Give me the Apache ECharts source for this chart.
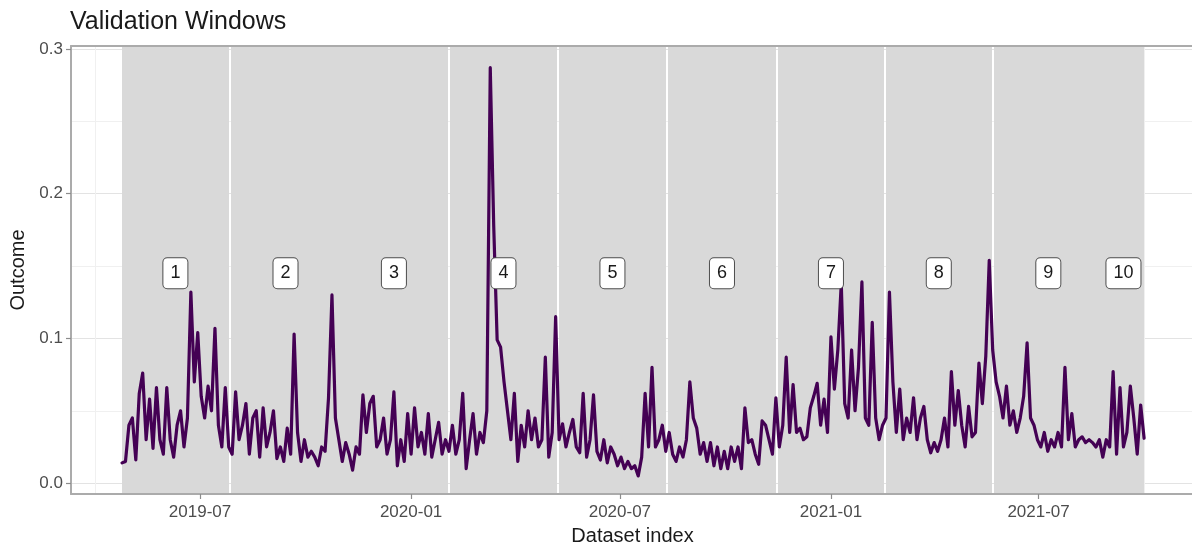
<!DOCTYPE html>
<html>
<head>
<meta charset="utf-8">
<title>Validation Windows</title>
<script src="https://cdn.jsdelivr.net/npm/echarts@6/dist/echarts.min.js"></script>
<style>
  html, body { margin: 0; padding: 0; background: #ffffff; overflow: hidden; }
  #chart { width: 1192px; height: 546px; }
</style>
</head>
<body>
<div id="chart"></div>
<script>
// Series: one observation every STEP_DAYS days starting at START_DATE
const START_DATE = '2019-04-24';
const STEP_DAYS = 3;
const outcome = [
  // window 1
  0.014, 0.015, 0.040, 0.045, 0.016, 0.062, 0.076, 0.030, 0.058, 0.024,
  0.066, 0.030, 0.020, 0.066, 0.030, 0.018, 0.040, 0.050, 0.025, 0.045,
  0.132, 0.070, 0.104, 0.060, 0.045, 0.067, 0.050, 0.107, 0.040, 0.025,
  0.066, 0.025,
  // window 2
  0.020, 0.063, 0.030, 0.040, 0.055, 0.020, 0.045, 0.050, 0.018, 0.052,
  0.025, 0.035, 0.050, 0.017, 0.025, 0.015, 0.038, 0.020, 0.103, 0.035,
  0.015, 0.030, 0.018, 0.022, 0.018, 0.012, 0.025, 0.022, 0.059, 0.130,
  0.045,
  // window 3
  0.030, 0.015, 0.028, 0.020, 0.009, 0.025, 0.020, 0.061, 0.035, 0.055,
  0.060, 0.025, 0.030, 0.045, 0.020, 0.030, 0.063, 0.012, 0.030, 0.015,
  0.048, 0.020, 0.052, 0.025, 0.035, 0.020, 0.048, 0.018, 0.030, 0.042,
  0.020, 0.030,
  // window 4
  0.022, 0.040, 0.020, 0.030, 0.062, 0.010, 0.030, 0.048, 0.020, 0.035,
  0.028, 0.050, 0.287, 0.178, 0.099, 0.094, 0.070, 0.050, 0.030, 0.062,
  0.015, 0.040, 0.025, 0.050, 0.030, 0.045, 0.025, 0.030, 0.087, 0.018,
  0.035, 0.115,
  // window 5
  0.030, 0.041, 0.025, 0.035, 0.044, 0.025, 0.021, 0.062, 0.018, 0.030,
  0.061, 0.022, 0.016, 0.030, 0.014, 0.025, 0.020, 0.012, 0.018, 0.010,
  0.015, 0.010, 0.012, 0.005, 0.018, 0.062, 0.025, 0.080, 0.025, 0.030,
  0.040, 0.022,
  // window 6
  0.035, 0.020, 0.015, 0.025, 0.018, 0.030, 0.070, 0.045, 0.038, 0.020,
  0.028, 0.015, 0.028, 0.012, 0.025, 0.010, 0.022, 0.010, 0.025, 0.015,
  0.025, 0.010, 0.052, 0.028, 0.030, 0.020, 0.013, 0.043, 0.040, 0.030,
  0.020, 0.059,
  // window 7
  0.025, 0.040, 0.087, 0.035, 0.068, 0.035, 0.038, 0.030, 0.032, 0.052,
  0.060, 0.069, 0.040, 0.058, 0.035, 0.101, 0.065, 0.092, 0.138, 0.055,
  0.045, 0.092, 0.050, 0.080, 0.139, 0.045, 0.040, 0.111, 0.045, 0.030,
  0.040,
  // window 8
  0.045, 0.132, 0.070, 0.035, 0.065, 0.030, 0.045, 0.035, 0.059, 0.030,
  0.045, 0.053, 0.030, 0.021, 0.028, 0.022, 0.030, 0.045, 0.025, 0.077,
  0.040, 0.064, 0.040, 0.025, 0.053, 0.032, 0.035, 0.083, 0.055, 0.088,
  0.154,
  // window 9
  0.092, 0.070, 0.060, 0.045, 0.067, 0.040, 0.050, 0.035, 0.045, 0.060,
  0.097, 0.045, 0.040, 0.030, 0.025, 0.035, 0.022, 0.030, 0.025, 0.035,
  0.025, 0.080, 0.030, 0.048, 0.025, 0.030, 0.032, 0.028, 0.030, 0.028,
  0.025,
  // window 10
  0.030, 0.018, 0.030, 0.025, 0.077, 0.020, 0.066, 0.025, 0.035, 0.067,
  0.045, 0.020, 0.054, 0.031
];

// Validation windows (inclusive date spans) and their labels
const windowStarts = ['2019-04-24', '2019-07-28', '2019-10-31', '2020-02-04', '2020-05-09',
                      '2020-08-12', '2020-11-16', '2021-02-18', '2021-05-23', '2021-08-26'];
const windowEnds   = ['2019-07-26', '2019-10-31', '2020-02-02', '2020-05-07', '2020-08-10',
                      '2020-11-14', '2021-02-16', '2021-05-21', '2021-08-26', '2021-10-01'];
const windowLabels = ['1', '2', '3', '4', '5', '6', '7', '8', '9', '10'];
const windowLabelLevel = 0.145;

// Axis ticks
const xTickDates  = ['2019-07-01', '2020-01-01', '2020-07-01', '2021-01-01', '2021-07-01'];
const xMinorDates = ['2019-04-01', '2019-10-01', '2020-04-01', '2020-10-01', '2021-04-01', '2021-10-01'];
const yTicks      = [0, 0.1, 0.2, 0.3];
const yMinorTicks = [0.05, 0.15, 0.25];

function toTime(s, hour) {
  const p = s.split('-').map(Number);
  return new Date(p[0], p[1] - 1, p[2], hour || 0).getTime();
}
function pad2(n) { return (n < 10 ? '0' : '') + n; }

const startParts = START_DATE.split('-').map(Number);
const seriesData = outcome.map(function (v, i) {
  return [new Date(startParts[0], startParts[1] - 1, startParts[2] + i * STEP_DAYS).getTime(), v];
});

const X_MIN = toTime('2019-03-10', 12);
const X_MAX = toTime('2021-11-13', 12);
const Y_MIN = -0.0075;
const Y_MAX = 0.302;

const windowData = windowStarts.map(function (s, i) {
  return [toTime(s), toTime(windowEnds[i])];
});
const labelData = windowStarts.map(function (s, i) {
  return [(toTime(s) + toTime(windowEnds[i])) / 2, windowLabelLevel];
});

const FONT = '"Liberation Sans", Arial, Helvetica, sans-serif';
const FRAME = '#ababab';

function gridOnlyAxis(extra) {
  return Object.assign({
    show: true,
    axisLine: { show: false },
    axisLabel: { show: false },
    z: 0
  }, extra);
}

const chart = echarts.init(document.getElementById('chart'), null, { renderer: 'canvas', width: 1192, height: 546 });

chart.setOption({
  animation: false,
  backgroundColor: '#ffffff',
  title: {
    text: 'Validation Windows',
    left: 70,
    top: 10,
    padding: 0,
    textStyle: { fontFamily: FONT, fontSize: 25, fontWeight: 'normal', color: '#1a1a1a' }
  },
  grid: { left: 71, right: -2, top: 46, bottom: 52, containLabel: false, outerBoundsMode: 'none' },
  xAxis: [
    {
      // dates are plotted as timestamps on a linear scale
      type: 'value',
      min: X_MIN,
      max: X_MAX,
      position: 'bottom',
      z: 10,
      name: 'Dataset index',
      nameLocation: 'middle',
      nameGap: 32,
      nameTextStyle: { fontFamily: FONT, fontSize: 20, color: '#1a1a1a' },
      axisLine: { show: true, onZero: false, lineStyle: { color: FRAME, width: 2 } },
      axisTick: { show: true, length: 5, lineStyle: { color: '#8c8c8c', width: 1.2 },
                  customValues: xTickDates.map(function (d) { return toTime(d); }) },
      axisLabel: {
        show: true, margin: 10,
        fontFamily: FONT, fontSize: 17, color: '#4d4d4d',
        customValues: xTickDates.map(function (d) { return toTime(d); }),
        formatter: function (v) {
          const d = new Date(v);
          return d.getFullYear() + '-' + pad2(d.getMonth() + 1);
        }
      },
      splitLine: { show: false }
    },
    {
      // top frame line
      type: 'value', min: X_MIN, max: X_MAX, position: 'top', z: 10,
      axisLine: { show: true, onZero: false, lineStyle: { color: FRAME, width: 2 } },
      axisTick: { show: false }, axisLabel: { show: false }, splitLine: { show: false }
    },
    gridOnlyAxis({
      // minor vertical grid
      type: 'value', min: X_MIN, max: X_MAX, position: 'top',
      axisTick: { show: false, customValues: xMinorDates.map(function (d) { return toTime(d); }) },
      splitLine: { show: true, lineStyle: { color: '#f0f0f0', width: 1 } }
    })
  ],
  yAxis: [
    {
      type: 'value',
      min: Y_MIN,
      max: Y_MAX,
      position: 'left',
      z: 10,
      name: 'Outcome',
      nameLocation: 'middle',
      nameRotate: 90,
      nameGap: 37,
      nameTextStyle: { fontFamily: FONT, fontSize: 20, color: '#1a1a1a' },
      axisLine: { show: true, onZero: false, lineStyle: { color: FRAME, width: 2 } },
      axisTick: { show: true, length: 5, lineStyle: { color: '#8c8c8c', width: 1.2 },
                  customValues: yTicks },
      axisLabel: {
        show: true, margin: 8,
        fontFamily: FONT, fontSize: 17, color: '#4d4d4d',
        customValues: yTicks,
        formatter: function (v) { return v.toFixed(1); }
      },
      splitLine: { show: false }
    },
    gridOnlyAxis({
      // major horizontal grid
      type: 'value', min: Y_MIN, max: Y_MAX, position: 'right',
      axisTick: { show: false, customValues: yTicks },
      splitLine: { show: true, lineStyle: { color: '#e3e3e3', width: 1 } }
    }),
    gridOnlyAxis({
      // minor horizontal grid
      type: 'value', min: Y_MIN, max: Y_MAX, position: 'right',
      axisTick: { show: false, customValues: yMinorTicks },
      splitLine: { show: true, lineStyle: { color: '#f0f0f0', width: 1 } }
    })
  ],
  series: [
    {
      // shaded validation windows, edges snapped to whole pixels
      type: 'custom',
      xAxisIndex: 0,
      yAxisIndex: 0,
      z: 1,
      silent: true,
      data: windowData,
      encode: { x: [0, 1] },
      renderItem: function (params, api) {
        const p0 = api.coord([api.value(0), Y_MIN]);
        const p1 = api.coord([api.value(1), Y_MAX]);
        const x0 = Math.round(p0[0]);
        const x1 = Math.round(p1[0]);
        return {
          type: 'rect',
          shape: { x: x0, y: p1[1], width: x1 - x0, height: p0[1] - p1[1] },
          style: { fill: '#d9d9d9' }
        };
      }
    },
    {
      type: 'line',
      xAxisIndex: 0,
      yAxisIndex: 0,
      z: 3,
      data: seriesData,
      showSymbol: false,
      symbol: 'none',
      lineStyle: { color: '#440154', width: 3.2, cap: 'round', join: 'round' }
    },
    {
      // window number tags
      type: 'custom',
      xAxisIndex: 0,
      yAxisIndex: 0,
      z: 5,
      silent: true,
      data: labelData,
      encode: { x: 0, y: 1 },
      renderItem: function (params, api) {
        const p = api.coord([api.value(0), api.value(1)]);
        return {
          type: 'text',
          x: p[0],
          y: p[1],
          style: {
            text: windowLabels[params.dataIndex],
            fontFamily: FONT,
            fontSize: 18,
            fill: '#1a1a1a',
            align: 'center',
            verticalAlign: 'middle',
            lineHeight: 20,
            backgroundColor: '#ffffff',
            borderColor: '#4d4d4d',
            borderWidth: 1,
            borderRadius: 4,
            padding: [5, 7, 5, 7]
          }
        };
      }
    }
  ]
});
</script>
</body>
</html>
